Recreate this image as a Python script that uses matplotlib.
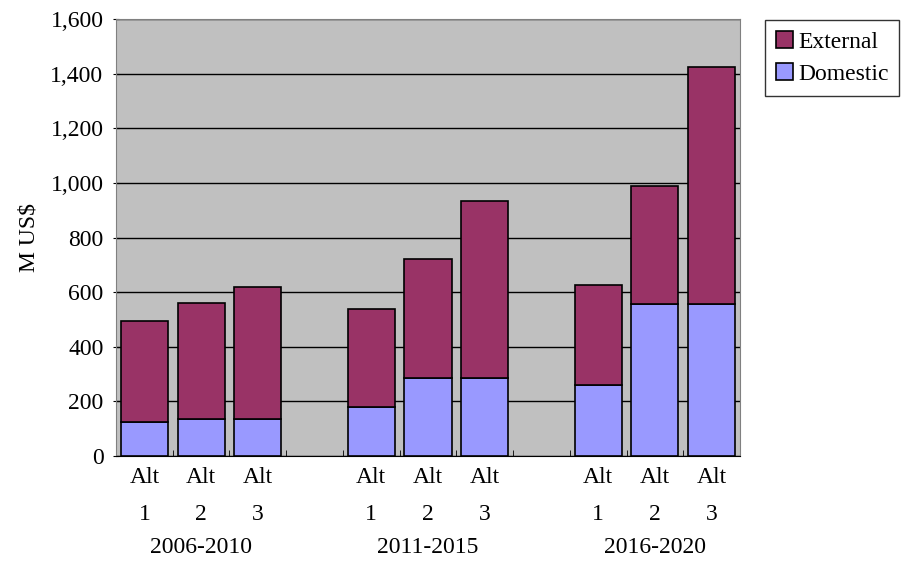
import matplotlib.pyplot as plt
import numpy as np

plt.rcParams['font.family'] = ['Liberation Serif', 'DejaVu Serif']

periods = ['2006-2010', '2011-2015', '2016-2020']
alt_nums = ['1', '2', '3']
domestic = [125, 135, 135, 180, 285, 285, 260, 555, 555]
external = [370, 425, 485, 360, 435, 650, 365, 435, 870]

# 3 bars per period, empty slot between periods
pos = [0, 1, 2, 4, 5, 6, 8, 9, 10]
fs = 17

fig = plt.figure(figsize=(9.01, 5.61), dpi=100)
ax = fig.add_axes([116/901, 105/561, 624/901, 437/561])
ax.set_facecolor('#C0C0C0')

ax.bar(pos, domestic, width=0.83, color='#9999FF', edgecolor='black', linewidth=1.2,
       label='Domestic', zorder=3)
ax.bar(pos, external, width=0.83, bottom=domestic, color='#993366', edgecolor='black',
       linewidth=1.2, label='External', zorder=3)

ax.set_xlim(-0.5, 10.5)
ax.set_ylim(0, 1600)
ax.set_yticks(np.arange(0, 1601, 200))
ax.set_yticklabels([f'{v:,}' for v in range(0, 1601, 200)], fontsize=fs)
ax.yaxis.grid(True, color='black', linewidth=1, zorder=1)
ax.set_ylabel('M US$', fontsize=fs, labelpad=8)

ax.set_xticks(pos)
ax.set_xticklabels([])
ax.tick_params(axis='x', length=0)
ax.set_xticks(np.arange(0.5, 10.5, 1), minor=True)
ax.tick_params(axis='x', which='minor', direction='in', length=4, color='black')
ax.tick_params(axis='y', length=4, direction='inout', pad=7)

tr = ax.get_xaxis_transform()
for p, n in zip(pos, alt_nums * 3):
    ax.text(p, -0.05, 'Alt', transform=tr, ha='center', va='center', fontsize=fs)
    ax.text(p, -0.135, n, transform=tr, ha='center', va='center', fontsize=fs)
for i, per in enumerate(periods):
    ax.text(4 * i + 1, -0.21, per, transform=tr, ha='center', va='center', fontsize=fs)

for s in ['top', 'right', 'left']:
    ax.spines[s].set_color('#808080')
ax.spines['bottom'].set_color('black')

h, l = ax.get_legend_handles_labels()
leg = fig.legend(h[::-1], l[::-1], loc='upper left', bbox_to_anchor=(765/901, 1 - 20/561),
                 borderaxespad=0, fontsize=fs, frameon=True, fancybox=False,
                 edgecolor='black', handlelength=0.75, handleheight=0.75,
                 handletextpad=0.2, borderpad=0.45, labelspacing=0.45)
leg.get_frame().set_linewidth(1)

fig.savefig('out.png', dpi=100)
